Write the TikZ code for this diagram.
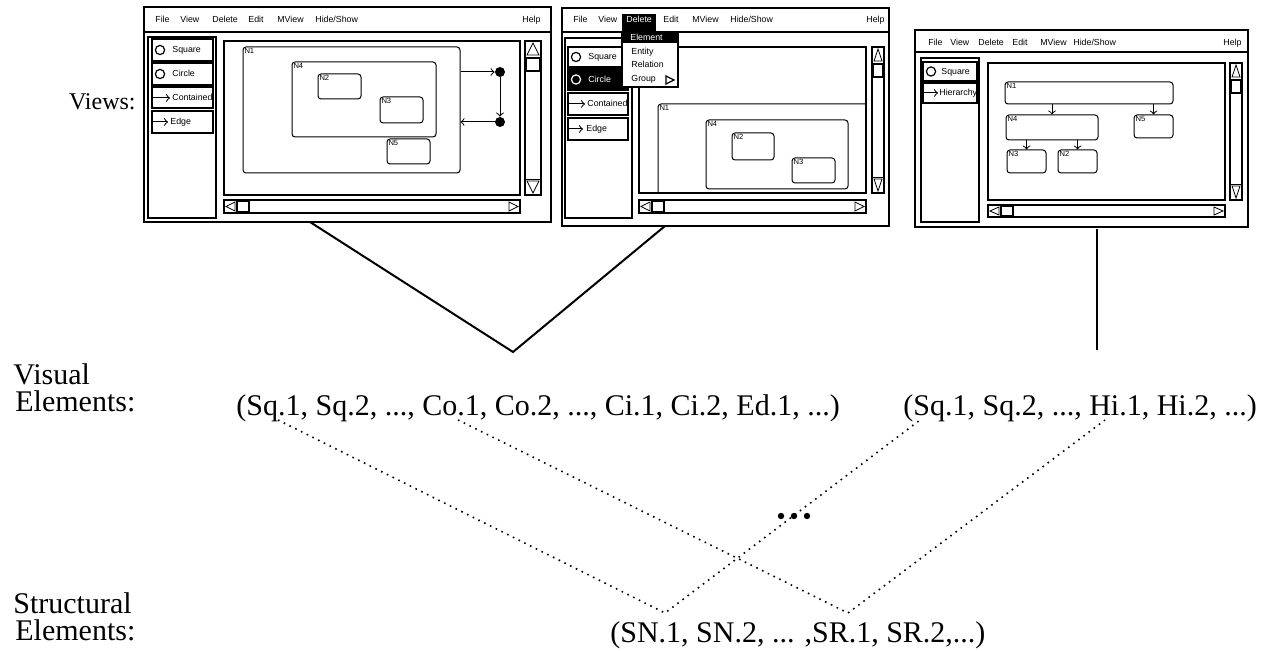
\documentclass[tikz,border=0pt]{standalone}
\usepackage{fontspec}
\setmainfont{Liberation Serif}
\newfontfamily\uisans{Liberation Sans}
\tikzset{
  win/.style={draw, line width=1.2pt},
  pane/.style={draw, line width=0.6pt},
  cnv/.style={draw, line width=0.8pt},
  btn/.style={draw, line width=1pt},
  ui/.style={font=\uisans\fontsize{4.4}{5}\selectfont, inner sep=0pt, anchor=base west},
  nlbl/.style={anchor=north west, inner sep=0.8pt, font=\uisans\fontsize{3.8}{4}\selectfont},
  nbox/.style={draw, rounded corners=1.5pt, line width=0.5pt, inner sep=0pt},
  arr/.style={->, line width=0.5pt},
  edot/.style={circle, fill, inner sep=0pt, minimum size=5pt},
  lbl/.style={font=\fontsize{15}{18}\selectfont, inner sep=0pt, anchor=base west},
  dotline/.style={line width=0.8pt, dash pattern=on 0.8pt off 2.4pt},
}
\begin{document}
\begin{tikzpicture}[x=0.5pt, y=-0.5pt]
\useasboundingbox (0,0) rectangle (1262,651);
% Fensterrahmen
\foreach \l/\t/\r/\b/\m in {144/7/551/222/32, 562/8/889/226/32, 915/30/1248/227/52} {
  \draw[win] (\l,\t) rectangle (\r,\b);
  \draw[pane] (\l,\m) -- (\r,\m);
}
\foreach \l/\t/\r/\b in {148/37/216/218, 565/38/632/218, 921/58/979/222}
  \draw[pane] (\l,\t) rectangle (\r,\b);
\foreach \l/\t/\r/\b in {224/41/520/195, 639/47/866/193, 988/63/1225/200}
  \draw[cnv] (\l,\t) rectangle (\r,\b);
% Scrollbars
\foreach \l/\r/\t/\b in {525/541/41/195, 872/884/47/193, 1230/1242/63/200} {
  \draw[cnv] (\l,\t) rectangle (\r,\b);
  \draw ({\l+2},{\t+14}) -- ({(\l+\r)/2},{\t+2}) -- ({\r-2},{\t+14}) -- cycle;
  \draw[btn] ({\l+1},{\t+17}) rectangle ({\r-1},{\t+30});
  \draw (\l,{\b-16}) -- (\r,{\b-16});
  \draw ({\l+2},{\b-14}) -- ({(\l+\r)/2},{\b-2}) -- ({\r-2},{\b-14}) -- cycle;
}
\foreach \l/\r/\t/\b in {224/520/200/213, 639/866/200/213, 988/1225/205/217} {
  \draw[cnv] (\l,\t) rectangle (\r,\b);
  \draw ({\l+11},{\t+2}) -- ({\l+2},{(\t+\b)/2}) -- ({\l+11},{\b-2}) -- cycle;
  \draw[btn] ({\l+13},{\t+1}) rectangle ({\l+25},{\b-1});
  \draw ({\r-11},{\t+2}) -- ({\r-2},{(\t+\b)/2}) -- ({\r-11},{\b-2}) -- cycle;
}
% Menues
\foreach \x/\t [count=\i] in {155/File, 180/View, 212/Delete, 248/Edit, 277/MView, 315/{Hide/Show}, 522/Help}
  \node[ui] (ma\i) at (\x,23) {\t};
\fill (622,14) rectangle (656,32);
\node[ui, text=white] (mbdel) at (626,23) {Delete};
\foreach \x/\t [count=\i] in {573/File, 598/View, 663/Edit, 692/MView, 730/{Hide/Show}, 866/Help}
  \node[ui] (mb\i) at (\x,23) {\t};
\foreach \x/\t [count=\i] in {928/File, 950/View, 978/Delete, 1012/Edit, 1040/MView, 1073/{Hide/Show}, 1223/Help}
  \node[ui] (mc\i) at (\x,46) {\t};
% Buttons, Fenster 1
\foreach \t/\b in {39/61, 63/85, 87/108, 111/133}
  \draw[btn] (152,\t) rectangle (213,\b);
\draw[line width=0.6pt] (160,50) circle (2.3pt);
\draw[line width=0.6pt] (160,74) circle (2.3pt);
\draw[arr] (153,98) -- (170,98);
\draw[arr] (153,122) -- (168,122);
\node[ui] (ba1) at (172,53) {Square};
\node[ui] (ba2) at (172,77) {Circle};
\node[ui] (ba3) at (172,101) {Contained};
\node[ui] (ba4) at (170,125) {Edge};
% Buttons, Fenster 2
\draw[btn] (568,47) rectangle (628,67);
\draw[btn, fill] (568,69) rectangle (628,90);
\draw[btn] (568,93) rectangle (628,115);
\draw[btn] (568,118) rectangle (628,140);
\draw[line width=0.6pt] (576,57) circle (2.3pt);
\draw[line width=0.6pt, white] (576,79.5) circle (2.3pt);
\draw[arr] (569,104) -- (585,104);
\draw[arr] (569,129) -- (583,129);
\node[ui] (bb1) at (588,60) {Square};
\node[ui, text=white] (bb2) at (588,82.5) {Circle};
\node[ui] (bb3) at (587,107) {Contained};
\node[ui] (bb4) at (586,132) {Edge};
% Buttons, Fenster 3
\draw[btn] (923,62) rectangle (977,81);
\draw[btn] (923,83) rectangle (977,103);
\draw[line width=0.6pt] (931,71.5) circle (2.3pt);
\draw[arr] (924,93) -- (938,93);
\node[ui] (bc1) at (941,74.5) {Square};
\node[ui] (bc2) at (939,96) {Hierarchy};
% Knoten, Fenster 1
\node[nbox, minimum width=108.5pt, minimum height=63pt, label={[nlbl]north west:N1}] (an1) at (351.5,110) {};
\node[nbox, minimum width=72pt, minimum height=37.5pt, label={[nlbl]north west:N4}] (an4) at (364,99.5) {};
\node[nbox, minimum width=21.5pt, minimum height=12.5pt, label={[nlbl]north west:N2}] (an2) at (339.5,86.5) {};
\node[nbox, minimum width=21.5pt, minimum height=13pt, label={[nlbl]north west:N3}] (an3) at (401.5,110) {};
\node[nbox, minimum width=21.5pt, minimum height=12.5pt, label={[nlbl]north west:N5}] (an5) at (408.5,151.5) {};
\node[edot] (ea) at (500,72) {};
\node[edot] (eb) at (500,122) {};
\draw[arr] (an1.east |- ea) -- (ea);
\draw[arr] (ea) -- (eb);
\draw[arr] (eb) -- (an1.east |- eb);
% Knoten, Fenster 2
\begin{scope}
\clip (639,47) rectangle (866,193);
\node[nbox, minimum width=121pt, minimum height=68pt, label={[nlbl]north west:N1}] (bn1) at (779,172) {};
\end{scope}
\node[nbox, minimum width=71pt, minimum height=34.5pt, label={[nlbl]north west:N4}] (bn4) at (777,154.5) {};
\node[nbox, minimum width=21pt, minimum height=13.5pt, label={[nlbl]north west:N2}] (bn2) at (753,146.5) {};
\node[nbox, minimum width=21.5pt, minimum height=12.5pt, label={[nlbl]north west:N3}] (bn3) at (813.5,170.5) {};
% Delete-Menue
\draw[pane, fill=white] (622,32) rectangle (678,87);
\fill (622,32) rectangle (678,43);
\node[ui, text=white] (dd1) at (630,41) {Element};
\node[ui] (dd2) at (631,55) {Entity};
\node[ui] (dd3) at (631,68) {Relation};
\node[ui] (dd4) at (631,81.5) {Group};
\draw[line width=0.6pt] (666,76) -- (674,80) -- (666,84) -- cycle;
% Knoten, Fenster 3
\node[nbox, minimum width=84pt, minimum height=11pt, label={[nlbl]north west:N1}] (cn1) at (1089,93) {};
\node[nbox, minimum width=46pt, minimum height=12.5pt, label={[nlbl]north west:N4}] (cn4) at (1052,127.5) {};
\node[nbox, minimum width=19.5pt, minimum height=11.5pt, label={[nlbl]north west:N5}] (cn5) at (1153.5,126.5) {};
\node[nbox, minimum width=19.5pt, minimum height=11.5pt, label={[nlbl]north west:N3}] (cn3) at (1026.5,161.5) {};
\node[nbox, minimum width=19.5pt, minimum height=11.5pt, label={[nlbl]north west:N2}] (cn2) at (1077.5,161.5) {};
\draw[arr] (cn1.south -| cn4.north) -- (cn4.north);
\draw[arr] (cn1.south -| cn5.north) -- (cn5.north);
\draw[arr] (cn4.south -| cn3.north) -- (cn3.north);
\draw[arr] (cn4.south -| cn2.north) -- (cn2.north);
% Beschriftung
\node[lbl, anchor=base east, font=\fontsize{12}{14}\selectfont] (views) at (136,110) {Views:};
\node[lbl] (vis1) at (13,385) {Visual};
\node[lbl] (vis2) at (15,412) {Elements:};
\node[lbl] (str1) at (13,613) {Structural};
\node[lbl] (str2) at (15,640) {Elements:};
\node[lbl] (tupa) at (236,416) {(Sq.1, Sq.2, ..., Co.1, Co.2, ..., Ci.1, Ci.2, Ed.1, ...)};
\node[lbl] (tupb) at (903,416) {(Sq.1, Sq.2, ..., Hi.1, Hi.2, ...)};
\node[lbl] (tupc) at (610,642) {(SN.1, SN.2, ... ,SR.1, SR.2,...)};
% Linien
\coordinate (wafoot) at (310,222);
\coordinate (wbfoot) at (665,226);
\coordinate (vtip) at (513,352);
\coordinate (wcfoot) at (1097,229);
\coordinate (wcend) at (1097,350);
\draw[line width=1pt] (wafoot) -- (vtip) -- (wbfoot);
\draw[line width=0.9pt] (wcfoot) -- (wcend);
\coordinate (sqa) at (278,420);
\coordinate (coa) at (458,420);
\coordinate (sqb) at (920,420);
\coordinate (hib) at (1105,420);
\coordinate (sntip) at (665,613);
\coordinate (srtip) at (848,613);
\draw[dotline] (sqa) -- (sntip) -- (sqb);
\draw[dotline] (coa) -- (srtip) -- (hib);
% Punkte
\foreach \x in {781,794,807}
  \fill (\x,516) circle (1.6pt);
\end{tikzpicture}
\end{document}
